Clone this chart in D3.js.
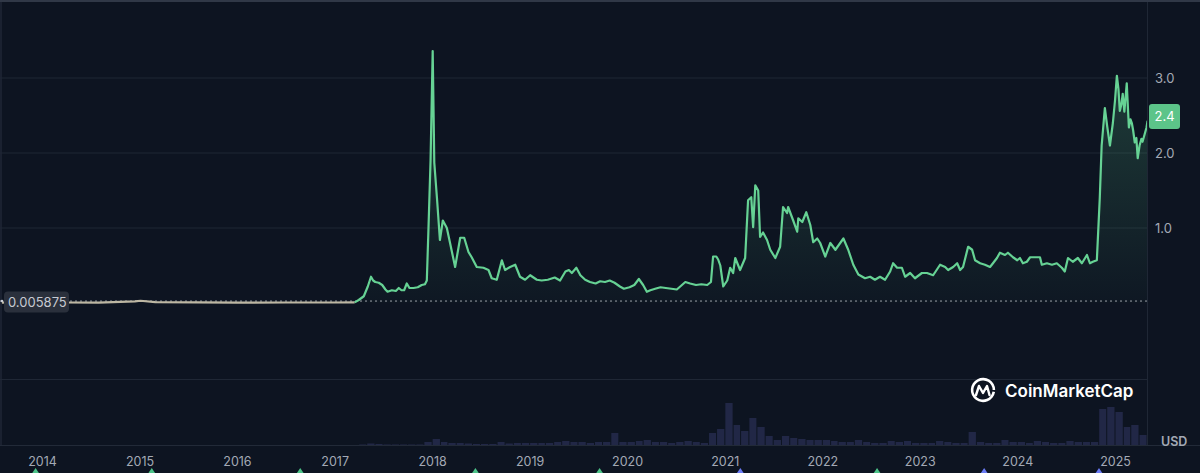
<!DOCTYPE html>
<html><head><meta charset="utf-8">
<script src="https://cdn.jsdelivr.net/npm/d3@7"></script>
<style>html,body{margin:0;padding:0;background:#0d1421;}svg{display:block;}</style>
</head><body><svg id="c" width="1200" height="473"></svg>
<script>
// ---------- data ----------
const pricePre = [
  ["2013-08-04",0.0059],["2013-12-10",0.02],["2014-01-15",0.018],["2014-04-01",0.009],
  ["2014-08-01",0.005],["2014-12-15",0.022],["2015-01-05",0.03],["2015-03-01",0.012],
  ["2015-08-01",0.008],["2016-01-01",0.006],["2016-07-01",0.0065],["2017-01-01",0.0064],
  ["2017-03-17",0.008]
];
const priceMain = [
  ["2017-03-17",0.008],["2017-04-01",0.04],["2017-04-20",0.09],["2017-05-05",0.22],["2017-05-17",0.35],
  ["2017-05-25",0.30],["2017-06-02",0.28],["2017-06-15",0.27],["2017-06-28",0.24],["2017-07-10",0.18],
  ["2017-07-18",0.15],["2017-08-03",0.17],["2017-08-18",0.16],["2017-08-29",0.20],["2017-09-08",0.17],
  ["2017-09-18",0.17],["2017-09-28",0.26],["2017-10-08",0.20],["2017-10-23",0.20],["2017-11-08",0.21],
  ["2017-11-23",0.24],["2017-12-05",0.25],["2017-12-12",0.30],["2017-12-18",0.97],["2017-12-26",1.9],
  ["2018-01-03",3.36],["2018-01-09",1.87],["2018-01-19",1.40],["2018-01-30",0.84],["2018-02-10",1.10],
  ["2018-02-25",1.00],["2018-03-09",0.80],["2018-03-28",0.48],["2018-04-16",0.87],["2018-05-01",0.87],
  ["2018-05-17",0.68],["2018-05-29",0.61],["2018-06-17",0.48],["2018-07-12",0.47],["2018-07-31",0.44],
  ["2018-08-12",0.33],["2018-08-31",0.31],["2018-09-19",0.57],["2018-10-01",0.44],["2018-10-20",0.48],
  ["2018-11-08",0.51],["2018-11-26",0.35],["2018-12-15",0.31],["2019-01-03",0.37],["2019-01-28",0.31],
  ["2019-02-15",0.30],["2019-03-10",0.31],["2019-04-05",0.34],["2019-04-25",0.30],["2019-05-15",0.42],
  ["2019-05-28",0.44],["2019-06-08",0.40],["2019-06-25",0.47],["2019-07-10",0.37],["2019-07-28",0.31],
  ["2019-08-15",0.28],["2019-09-05",0.26],["2019-09-22",0.29],["2019-10-10",0.28],["2019-10-28",0.30],
  ["2019-11-15",0.27],["2019-12-05",0.22],["2019-12-20",0.19],["2020-01-10",0.21],["2020-01-28",0.24],
  ["2020-02-14",0.32],["2020-03-01",0.24],["2020-03-15",0.15],["2020-03-28",0.17],["2020-04-15",0.19],
  ["2020-05-05",0.21],["2020-05-25",0.20],["2020-06-15",0.19],["2020-07-05",0.18],["2020-07-18",0.22],
  ["2020-08-06",0.28],["2020-08-24",0.26],["2020-09-15",0.24],["2020-10-05",0.25],["2020-10-27",0.24],
  ["2020-11-10",0.28],["2020-11-18",0.62],["2020-11-30",0.62],["2020-12-07",0.58],["2020-12-15",0.50],
  ["2020-12-26",0.22],["2021-01-10",0.30],["2021-01-21",0.47],["2021-02-01",0.40],["2021-02-09",0.60],
  ["2021-02-27",0.44],["2021-03-18",0.60],["2021-03-29",1.37],["2021-04-10",1.41],["2021-04-17",1.01],
  ["2021-04-25",1.57],["2021-05-06",1.50],["2021-05-13",0.88],["2021-05-24",0.94],["2021-06-08",0.84],
  ["2021-06-20",0.71],["2021-07-09",0.60],["2021-07-27",0.75],["2021-08-07",1.28],["2021-08-22",1.20],
  ["2021-08-26",1.28],["2021-09-14",1.10],["2021-09-29",0.95],["2021-10-03",1.13],["2021-10-18",1.08],
  ["2021-11-02",1.21],["2021-11-17",1.04],["2021-11-28",0.81],["2021-12-13",0.86],["2021-12-24",0.80],
  ["2022-01-12",0.62],["2022-01-31",0.80],["2022-02-19",0.71],["2022-03-21",0.86],["2022-04-08",0.71],
  ["2022-04-27",0.51],["2022-05-16",0.38],["2022-06-10",0.33],["2022-06-29",0.35],["2022-07-17",0.31],
  ["2022-08-05",0.35],["2022-08-24",0.31],["2022-09-12",0.42],["2022-09-23",0.53],["2022-10-08",0.47],
  ["2022-10-26",0.47],["2022-11-07",0.35],["2022-11-26",0.40],["2022-12-14",0.33],["2023-01-09",0.40],
  ["2023-01-28",0.40],["2023-02-20",0.37],["2023-03-18",0.51],["2023-04-06",0.48],["2023-04-17",0.44],
  ["2023-05-06",0.48],["2023-05-21",0.53],["2023-06-01",0.44],["2023-06-12",0.48],["2023-07-01",0.75],
  ["2023-07-16",0.71],["2023-07-27",0.57],["2023-08-15",0.53],["2023-09-02",0.51],["2023-09-21",0.48],
  ["2023-10-02",0.53],["2023-10-17",0.60],["2023-10-28",0.67],["2023-11-16",0.64],["2023-11-27",0.67],
  ["2023-12-16",0.61],["2024-01-01",0.57],["2024-01-11",0.60],["2024-01-22",0.53],["2024-02-06",0.55],
  ["2024-02-18",0.61],["2024-03-07",0.61],["2024-03-26",0.61],["2024-04-02",0.51],["2024-04-21",0.53],
  ["2024-05-10",0.51],["2024-05-28",0.53],["2024-06-16",0.47],["2024-06-27",0.42],["2024-07-09",0.60],
  ["2024-07-27",0.55],["2024-08-15",0.60],["2024-08-30",0.53],["2024-09-18",0.64],["2024-09-29",0.53],
  ["2024-10-10",0.55],["2024-10-25",0.57],["2024-11-05",1.40],["2024-11-12",2.10],["2024-11-24",2.60],
  ["2024-12-03",2.35],["2024-12-13",2.10],["2024-12-24",2.40],["2025-01-01",2.70],["2025-01-08",3.03],
  ["2025-01-14",2.85],["2025-01-19",2.56],["2025-01-25",2.65],["2025-01-30",2.79],["2025-02-05",2.55],
  ["2025-02-14",2.93],["2025-02-22",2.34],["2025-02-28",2.45],["2025-03-05",2.40],["2025-03-10",2.30],
  ["2025-03-16",2.14],["2025-03-22",2.20],["2025-03-27",1.93],["2025-04-03",2.10],["2025-04-10",2.19],
  ["2025-04-14",2.15],["2025-04-22",2.25],["2025-04-29",2.34],["2025-05-03",2.43]
];
const yearTicks = [2014,2015,2016,2017,2018,2019,2020,2021,2022,2023,2024,2025];
const priceTicks = [1,2,3];
const baseValue = 0.005875;
const lastValue = 2.4;
const volumeMonths = [
  "2017-04","2017-05","2017-06","2017-07","2017-08","2017-09","2017-10","2017-11","2017-12",
  "2018-01","2018-02","2018-03","2018-04","2018-05","2018-06","2018-07","2018-08","2018-09","2018-10","2018-11","2018-12",
  "2019-01","2019-02","2019-03","2019-04","2019-05","2019-06","2019-07","2019-08","2019-09","2019-10","2019-11","2019-12",
  "2020-01","2020-02","2020-03","2020-04","2020-05","2020-06","2020-07","2020-08","2020-09","2020-10","2020-11","2020-12",
  "2021-01","2021-02","2021-03","2021-04","2021-05","2021-06","2021-07","2021-08","2021-09","2021-10","2021-11","2021-12",
  "2022-01","2022-02","2022-03","2022-04","2022-05","2022-06","2022-07","2022-08","2022-09","2022-10","2022-11","2022-12",
  "2023-01","2023-02","2023-03","2023-04","2023-05","2023-06","2023-07","2023-08","2023-09","2023-10","2023-11","2023-12",
  "2024-01","2024-02","2024-03","2024-04","2024-05","2024-06","2024-07","2024-08","2024-09","2024-10","2024-11","2024-12",
  "2025-01","2025-02","2025-03","2025-04"
];
const volumeValues = [
  0.5,1.5,1,0.5,0.5,0.5,0.5,0.5,3,
  6,3,2,2,1.5,1,1,1,3,1.5,2,2,
  2,2,2,3,4,3,3,2,3,3,12,3,
  3,4,5,3,3,2,3,4,3,2,12,16,
  42,20,14,27,18,9,5,9,7,6,5,5,
  5,4,3,3,5,3,2,2,4,3,4,2,
  2,2,4,3,2,2,13,3,2,2,5,3,
  3,2,4,3,2,2,4,3,3,3,36,38,
  33,18,20,10
];
const eventsGreen = ["2013-12-08","2015-02-16","2016-08-25","2018-06-12","2019-09-20","2022-07-25"];
const eventsBlue = ["2021-02-28","2023-08-30","2024-11-02"];

// ---------- chart ----------
const svg = d3.select("#c");
const parse = d3.utcParse("%Y-%m-%d");
const parseM = d3.utcParse("%Y-%m");
const x = d3.scaleUtc().domain([Date.UTC(2014,0,1), Date.UTC(2025,0,1)]).range([42,1115]);
const y = d3.scaleLinear().domain([0,3]).range([303,78]);
const yv = d3.scaleLinear().domain([0,50]).range([445,395]);
const plotR = 1147;

svg.append("rect").attr("width",1200).attr("height",473).attr("fill","#0d1421");
svg.append("rect").attr("x",0).attr("y",0).attr("width",1200).attr("height",2).attr("fill","#303847");
svg.append("rect").attr("x",0).attr("y",2).attr("width",2).attr("height",443).attr("fill","#1a2130");

const defs = svg.append("defs");
defs.append("clipPath").attr("id","clip").append("rect").attr("x",0).attr("y",0).attr("width",plotR).attr("height",446);
const grad = defs.append("linearGradient").attr("id","ag").attr("gradientUnits","userSpaceOnUse")
  .attr("x1",0).attr("x2",0).attr("y1",y(3.2)).attr("y2",y(baseValue));
grad.append("stop").attr("offset","0").attr("stop-color","#5fcf8e").attr("stop-opacity",0.22);
grad.append("stop").attr("offset","1").attr("stop-color","#5fcf8e").attr("stop-opacity",0.02);

// grid
const grid = svg.append("g");
grid.selectAll("line.h").data(priceTicks).join("line")
  .attr("x1",0).attr("x2",plotR).attr("y1",d=>y(d)).attr("y2",d=>y(d))
  .attr("stroke","#1f2735").attr("stroke-width",1);
grid.append("line").attr("x1",0).attr("x2",plotR).attr("y1",379.5).attr("y2",379.5).attr("stroke","#1f2735");
grid.append("line").attr("x1",0).attr("x2",1200).attr("y1",445.5).attr("y2",445.5).attr("stroke","#222a38");
grid.append("line").attr("x1",plotR+0.5).attr("x2",plotR+0.5).attr("y1",2).attr("y2",445).attr("stroke","#1f2735");

// volume
const vol = volumeMonths.map((m,i)=>({d:parseM(m),v:volumeValues[i]}));
const gv = svg.append("g").attr("clip-path","url(#clip)");
gv.selectAll("rect").data(vol).join("rect")
  .attr("x",d=>x(d.d)+0.5)
  .attr("width",d=>Math.max(1,x(d3.utcMonth.offset(d.d,1))-x(d.d)-1))
  .attr("y",d=>yv(d.v)).attr("height",d=>445-yv(d.v))
  .attr("fill","#5b60b2").attr("opacity",0.26);

// price
const pre = pricePre.map(d=>({d:parse(d[0]),v:d[1]}));
const main = priceMain.map(d=>({d:parse(d[0]),v:d[1]}));
const g = svg.append("g").attr("clip-path","url(#clip)");
const area = d3.area().x(d=>x(d.d)).y0(y(baseValue)).y1(d=>y(d.v));
g.append("path").datum(main).attr("d",area).attr("fill","url(#ag)");
g.append("line").attr("x1",0).attr("x2",plotR).attr("y1",y(baseValue)-1.5).attr("y2",y(baseValue)-1.5)
  .attr("stroke","#c9ced6").attr("stroke-width",1).attr("stroke-dasharray","2,3").attr("opacity",0.75);
const line = d3.line().x(d=>x(d.d)).y(d=>y(d.v));
g.append("path").datum(pre).attr("d",line).attr("fill","none").attr("stroke","#bdb7a3").attr("stroke-width",2.2);
g.append("path").datum(main).attr("d",line).attr("fill","none").attr("stroke","#66d294").attr("stroke-width",2.2).attr("stroke-linejoin","round");

// right axis
const ya = svg.append("g").attr("transform",`translate(1155,0)`)
  .call(d3.axisRight(y).tickValues(priceTicks).tickFormat(d3.format(".1f")).tickSize(0).tickPadding(0));
ya.select(".domain").remove();
ya.selectAll("text").attr("fill","#a3a9b5").attr("font-family","Inter, sans-serif").attr("font-size",13).attr("dy","0.35em");

// bottom axis
const xa = svg.append("g").attr("transform","translate(0,457)")
  .call(d3.axisBottom(x).tickValues(yearTicks.map(yr=>new Date(Date.UTC(yr,0,1)))).tickFormat(d3.utcFormat("%Y")).tickSize(0).tickPadding(0));
xa.select(".domain").remove();
xa.selectAll("text").attr("fill","#a3a9b5").attr("font-family","Inter, sans-serif").attr("font-size",12.5).attr("dy","0.71em");

svg.append("text").attr("x",1161).attr("y",446).text("USD").attr("fill","#a3a9b5")
  .attr("font-family","Inter, sans-serif").attr("font-size",12.5).attr("font-weight",600);

// event markers
const ev = svg.append("g");
const tri = d=>`M${x(parse(d))-4},474 L${x(parse(d))},468 L${x(parse(d))+4},474 Z`;
ev.selectAll("path.g").data(eventsGreen).join("path").attr("d",tri).attr("fill","#4cc389");
ev.selectAll("path.b").data(eventsBlue).join("path").attr("d",tri).attr("fill","#6a7bf5");

// left base label
const lb = svg.append("g");
lb.append("rect").attr("x",4).attr("y",y(baseValue)-11).attr("width",65).attr("height",21).attr("rx",4).attr("fill","#2a303c");
lb.append("circle").attr("cx",2).attr("cy",y(baseValue)-1.5).attr("r",1.3).attr("fill","#c9ced6");
lb.append("text").attr("x",8).attr("y",y(baseValue)+4).text(d3.format(".6f")(baseValue))
  .attr("fill","#c6cad2").attr("font-family","Inter, sans-serif").attr("font-size",13);

// last value tag
const tg = svg.append("g");
tg.append("rect").attr("x",1149).attr("y",y(lastValue)-19).attr("width",31).attr("height",25).attr("rx",3).attr("fill","#5cc489");
tg.append("text").attr("x",1164.5).attr("y",y(lastValue)-2).attr("text-anchor","middle").text(d3.format(".1f")(lastValue))
  .attr("fill","#ffffff").attr("font-family","Inter, sans-serif").attr("font-size",13);

// logo
const lg = svg.append("g").attr("transform","translate(983,390)");
lg.append("path").attr("d",d3.arc()({innerRadius:9.6,outerRadius:12.2,startAngle:0.55*Math.PI,endAngle:2.5*Math.PI}))
  .attr("fill","#ffffff");
lg.append("path").attr("d","M-7,5 L-4,-4 L0,3 L4,-4 L6.5,5").attr("fill","none").attr("stroke","#fff")
  .attr("stroke-width",2.4).attr("stroke-linejoin","round").attr("stroke-linecap","round");
svg.append("text").attr("x",1005).attr("y",397).text("CoinMarketCap").attr("fill","#ffffff")
  .attr("font-family","Inter, sans-serif").attr("font-size",17).attr("font-weight",600);
</script></body></html>
